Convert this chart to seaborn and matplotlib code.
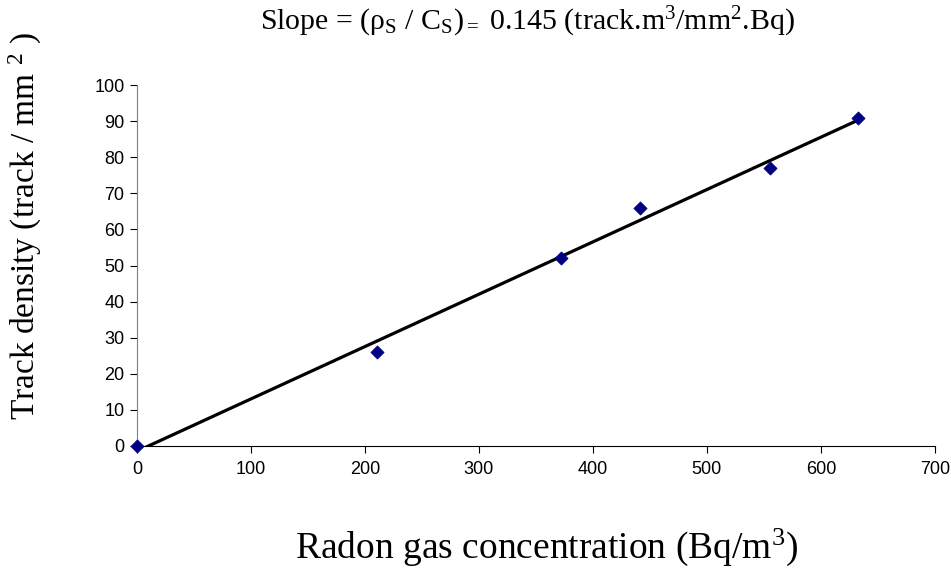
import numpy as np
import pandas as pd
import seaborn as sns
from matplotlib import pyplot as plt

# 數據: 氡氣濃度 與 徑跡密度
radon = [0, 211, 372, 441, 555, 633]
density = [0, 26, 52, 66, 77, 91]
df = pd.DataFrame({"radon": radon, "density": density})

sns.set_style("white")
plt.rcParams["font.family"] = ["Liberation Sans", "DejaVu Sans"]
plt.rcParams["text.color"] = "black"
plt.rcParams["axes.labelcolor"] = "black"
plt.rcParams["xtick.color"] = "black"
plt.rcParams["ytick.color"] = "black"
plt.rcParams["mathtext.fontset"] = "custom"
plt.rcParams["mathtext.rm"] = "Liberation Serif"
plt.rcParams["mathtext.it"] = "Liberation Serif:italic"

fig = plt.figure(figsize=(9.51, 5.71), dpi=100)
ax = fig.add_axes([0.144, 0.219, 0.839, 0.632])

# 趨勢線 (線性回歸)
sns.regplot(x="radon", y="density", data=df, ci=None, scatter=False,
            color="black", line_kws={"linewidth": 2.3}, ax=ax)
sns.scatterplot(x="radon", y="density", data=df, marker="D", s=45,
                color="#000080", edgecolor="#000080", clip_on=False,
                zorder=5, ax=ax)

ax.set_xlim(0, 700)
ax.set_ylim(0, 100)
ax.set_xticks(range(0, 701, 100))
ax.set_yticks(range(0, 101, 10))
ax.tick_params(axis="both", direction="out", length=5, width=0.8,
               labelsize=13, bottom=True, left=True, pad=4)
ax.tick_params(axis="x", pad=6)
for s in ["top", "right"]:
    ax.spines[s].set_visible(False)
ax.spines["left"].set_color("#808080")
ax.spines["bottom"].set_color("black")

serif = ["Liberation Serif", "DejaVu Serif"]
ax.set_xlabel(r"Radon gas concentration (Bq/m$^3$)", fontsize=27,
              family=serif)
ax.xaxis.set_label_coords(0.513, -0.225)
ax.set_ylabel(r"Track density (track / mm $^2$ )", fontsize=24,
              family=serif)
ax.yaxis.set_label_coords(-0.117, 0.61)
fig.text(0.555, 0.962,
         r"Slope = (ρ$_{\rm S}$ / C$_{\rm S}$)$_{=}$ 0.145 (track.m$^3$/mm$^2$.Bq)",
         ha="center", va="center", fontsize=21.5, family=serif)

fig.savefig("out.png", dpi=100)
